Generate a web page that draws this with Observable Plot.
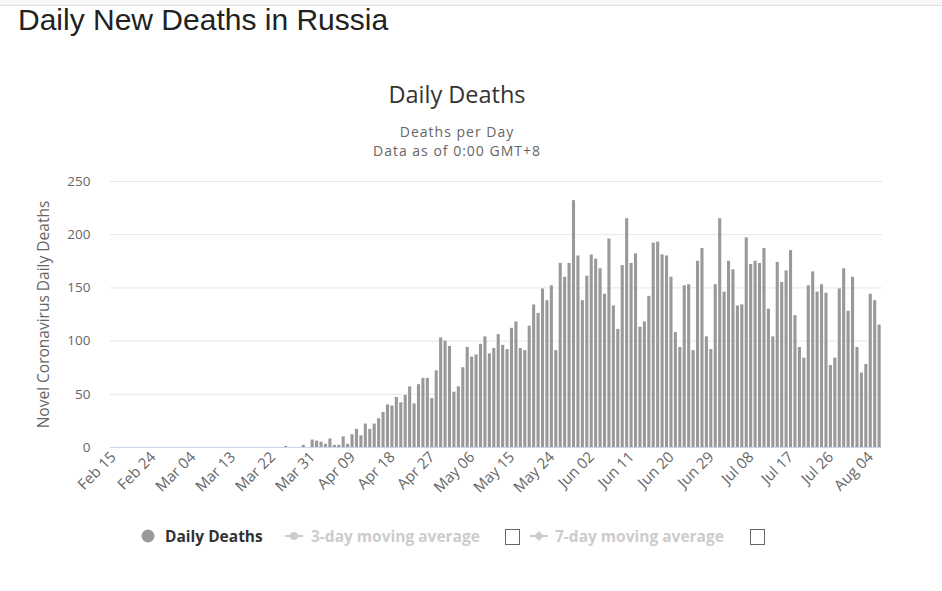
<!DOCTYPE html>
<html>
<head>
<meta charset="utf-8">
<script src="https://cdn.jsdelivr.net/npm/d3@7"></script>
<script src="https://cdn.jsdelivr.net/npm/@observablehq/plot@0.6"></script>
<style>
  body { margin: 0; background: #fff; }
  #page { position: relative; width: 942px; height: 591px; overflow: hidden; font-family: "Open Sans", sans-serif; }
  #topbar { position: absolute; left: 0; top: 0; width: 942px; height: 5px; background: #f7f7f7; border-bottom: 1px solid #dddddd; }
  #title { position: absolute; left: 18px; top: 5px; font: 30px/30px "Liberation Sans", Arial, sans-serif; color: #222; white-space: nowrap; }
  #ctitle { position: absolute; left: 257px; width: 400px; top: 83px; text-align: center; font-size: 23.5px; line-height: 22px; color: #333; }
  .sub { position: absolute; left: 257px; width: 400px; text-align: center; font-size: 14px; line-height: 16px; letter-spacing: 1px; color: #666; white-space: nowrap; }
  #chart { position: absolute; left: 0; top: 160px; }
  .leg { position: absolute; top: 526px; font-size: 15.5px; line-height: 20px; font-weight: bold; white-space: nowrap; }
  #legsvg { position: absolute; left: 0; top: 520px; }
</style>
</head>
<body>
<div id="page">
  <div id="topbar"></div>
  <div id="title">Daily New Deaths in Russia</div>
  <div id="ctitle">Daily Deaths</div>
  <div class="sub" style="top:124px;">Deaths per Day</div>
  <div class="sub" style="top:143px;">Data as of 0:00 GMT+8</div>
  <div id="chart"></div>
  <svg id="legsvg" width="942" height="32">
    <circle cx="148" cy="16" r="6.5" fill="#999"></circle>
    <line x1="285" x2="303" y1="16" y2="16" stroke="#ccc" stroke-width="2"></line>
    <circle cx="294" cy="16" r="4" fill="#ccc"></circle>
    <rect x="505.5" y="9.5" width="14" height="15" fill="#fff" stroke="#666"></rect>
    <line x1="530" x2="548" y1="16" y2="16" stroke="#ccc" stroke-width="2"></line>
    <path d="M539,11 L544,16 L539,21 L534,16 Z" fill="#ccc"></path>
    <rect x="750.5" y="9.5" width="14" height="15" fill="#fff" stroke="#666"></rect>
  </svg>
  <div class="leg" style="left:165px;color:#333;">Daily Deaths</div>
  <div class="leg" style="left:311px;color:#ccc;">3-day moving average</div>
  <div class="leg" style="left:555px;color:#ccc;">7-day moving average</div>
</div>
<script>
// Daily deaths, one per day starting 2020-02-15
const startDate = "2020-02-15";
const deaths = [
  0,0,0,0,0,0,0,0,0,0, 0,0,0,0,0,0,0,0,0,0,
  0,0,0,0,0,0,0,0,0,0, 0,0,0,0,0,0,0,0,0,1,
  0,0,0,2,0,7,6,5,3,8, 2,2,10,3,12,17,11,22,17,22,
  27,33,40,39,47,42,49,57,41,59, 65,65,46,72,103,100,95,52,57,75,
  94,85,87,97,104,88,93,106,96,92, 112,118,93,91,114,134,126,149,138,152,
  91,173,160,173,232,180,138,161,181,177, 168,144,196,133,111,171,215,173,182,113,
  118,142,192,193,181,180,160,108,94,152, 153,91,175,187,104,92,153,215,146,175,
  167,133,134,197,172,175,173,187,130,104, 174,155,166,185,124,94,84,152,165,146,
  153,145,77,84,149,168,128,160,94,70, 78,144,138,115
];
const tickLabels = ["Feb 15","Feb 24","Mar 04","Mar 13","Mar 22","Mar 31","Apr 09","Apr 18","Apr 27","May 06",
  "May 15","May 24","Jun 02","Jun 11","Jun 20","Jun 29","Jul 08","Jul 17","Jul 26","Aug 04"];
const yTicks = [0, 50, 100, 150, 200, 250];
const yTitle = "Novel Coronavirus Daily Deaths";

const fmt = d3.utcFormat("%b %d");
const start = new Date(startDate + "T00:00:00Z");
const days = deaths.map((_, i) => fmt(d3.utcDay.offset(start, i)));
const rows = deaths.map((v, i) => ({day: days[i], deaths: v}));

const chart = Plot.plot({
  width: 942,
  height: 350,
  marginLeft: 110,
  marginRight: 60,
  marginTop: 21,
  marginBottom: 63,
  style: {fontFamily: "Open Sans, sans-serif", fontSize: "13px", color: "#666", background: "transparent"},
  x: {type: "band", domain: days, padding: 0.3, align: 0.5},
  y: {domain: [0, 250]},
  marks: [
    Plot.gridY(yTicks, {stroke: "#e6e6e6", strokeOpacity: 1}),
    Plot.barY(rows, {x: "day", y: "deaths", fill: "#999999"}),
    Plot.ruleY([0], {stroke: "#ccd6eb"}),
    Plot.axisY(yTicks, {tickSize: 0, tickPadding: 20, label: null, fill: "#666", fontSize: 13.5}),
    Plot.axisX(tickLabels, {tickSize: 0, tickRotate: -45, tickPadding: 7, label: null, fill: "#666", fontSize: 15}),
    Plot.text([yTitle], {frameAnchor: "left", rotate: -90, dx: -66, textAnchor: "middle", fontSize: 15.5, fill: "#666"})
  ]
});
document.getElementById("chart").appendChild(chart);
</script>
</body>
</html>
